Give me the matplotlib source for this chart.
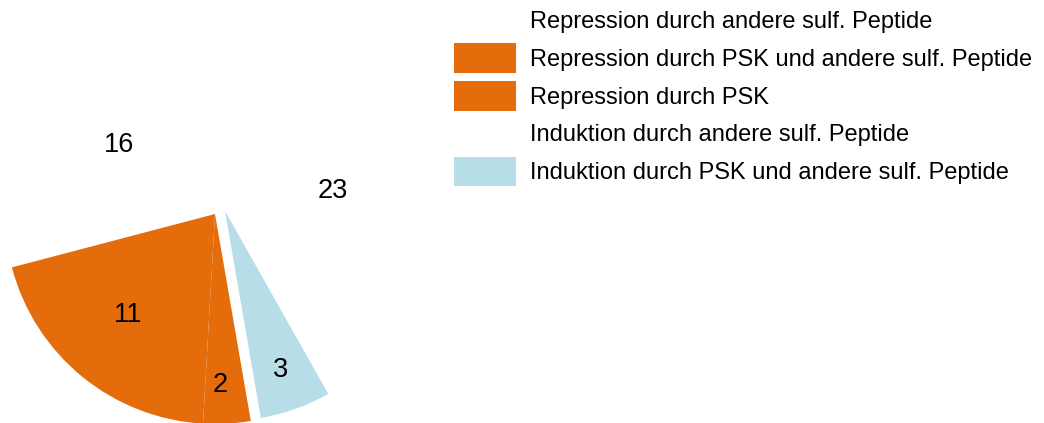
import numpy as np
import matplotlib.pyplot as plt
from matplotlib.patches import Patch

plt.rcParams['font.family'] = ['Liberation Sans', 'DejaVu Sans']

# Werte in Zeichenreihenfolge (gegen den Uhrzeigersinn ab 12 Uhr)
labels = ['Repression durch andere sulf. Peptide',
          'Repression durch PSK und andere sulf. Peptide',
          'Repression durch PSK',
          'Induktion durch PSK und andere sulf. Peptide',
          'Induktion durch andere sulf. Peptide']
values = [16, 11, 2, 3, 23]
colors = ['white', '#E46C0A', '#E46C0A', '#B7DDE8', 'white']

# Legende in der Reihenfolge des Originals
legend_order = [0, 1, 2, 4, 3]

# Lage der Zahlen: Abstand vom Mittelpunkt (in Radien) und Winkelversatz (Grad)
label_dist = [0.560, 0.633, 0.817, 0.80, 0.572]
label_rot = [1.9, -1.4, -1.5, -0.3, -3.7]

fig = plt.figure(figsize=(10.44, 4.23), dpi=100)
W, H = 1044, 423
cx, cy, r = 215, 423 - 214, 210
ax = fig.add_axes([(cx - r) / W, (cy - r) / H, 2 * r / W, 2 * r / H])

wedges, _ = ax.pie(values, colors=colors, startangle=90, radius=1,
                   wedgeprops=dict(linewidth=0))
ax.set_xlim(-1, 1)
ax.set_ylim(-1, 1)
ax.set_aspect('auto')
ax.axis('off')

# blaues Segment leicht herausgerueckt
shift = np.array([10, 3]) / r
wedges[3].set_center(tuple(shift))
wedges[3].set_zorder(5)
for w in wedges:
    w.set_clip_on(False)

for i, w in enumerate(wedges):
    mid = np.deg2rad((w.theta1 + w.theta2) / 2 + label_rot[i])
    c = np.array(w.center)
    x = c[0] + label_dist[i] * np.cos(mid)
    y = c[1] + label_dist[i] * np.sin(mid)
    ax.text(x, y, str(values[i]), ha='center', va='center', fontsize=19.5,
            zorder=6)

handles = [Patch(facecolor=colors[i], edgecolor='none') for i in legend_order]
fig.legend(handles, [labels[i] for i in legend_order],
           loc='upper left', bbox_to_anchor=(454 / W, 1 - 5.5 / H),
           frameon=False, fontsize=17, borderpad=0, borderaxespad=0,
           handlelength=2.63, handleheight=1.56, handletextpad=0.59,
           labelspacing=0.34)

fig.savefig('out.png', dpi=100)
